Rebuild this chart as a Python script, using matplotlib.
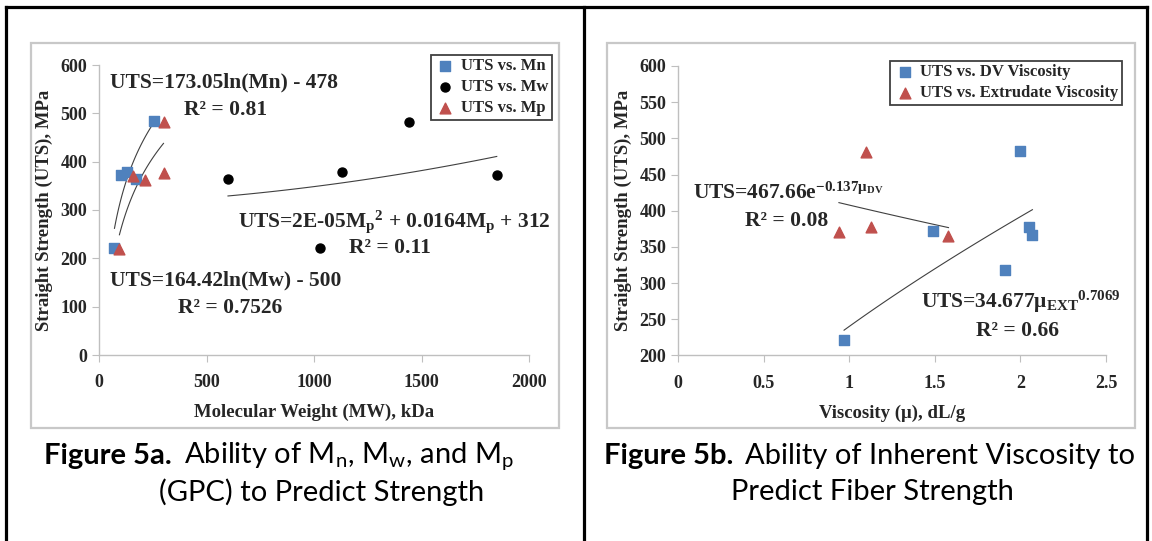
import matplotlib.pyplot as plt
import numpy as np
from matplotlib.patches import Rectangle
from matplotlib.lines import Line2D

plt.rcParams['font.family'] = ['Liberation Serif', 'DejaVu Serif']
plt.rcParams['mathtext.fontset'] = 'custom'
plt.rcParams['mathtext.rm'] = 'Lato'
plt.rcParams['mathtext.it'] = 'Lato:italic'
plt.rcParams['mathtext.bf'] = 'Liberation Serif:bold'

# Figure 5a: molecular weight (kDa) vs. strength (MPa)
mn_kda = [72, 100, 128, 170, 255]
mn_uts = [221, 372, 378, 365, 484]
mw_kda = [600, 1030, 1130, 1440, 1850]
mw_uts = [365, 221, 378, 483, 372]
mp_kda = [95, 160, 215, 300, 300]
mp_uts = [219, 371, 363, 482, 377]

# Figure 5b: viscosity (dL/g) vs. strength (MPa)
dv_visc = [0.97, 1.49, 1.91, 2.0, 2.05, 2.07]
dv_uts = [221, 372, 318, 482, 378, 366]
ext_visc = [0.94, 1.10, 1.13, 1.58]
ext_uts = [371, 481, 377, 365]

# trendline coefficients
ln_mn = (173.05, -478)
ln_mp = (164.42, -500)
quad_mw = (2e-5, 0.0164, 312)
exp_ext = (467.66, -0.137)
pow_dv = (240.0, 0.7069)

xticks_a = [0, 500, 1000, 1500, 2000]
yticks_a = [0, 100, 200, 300, 400, 500, 600]
xticks_b = [0, 0.5, 1, 1.5, 2, 2.5]
xlabels_b = ['0', '0.5', '1', '1.5', '2', '2.5']
yticks_b = [200, 250, 300, 350, 400, 450, 500, 550, 600]

BLUE = '#4f81bd'
RED = '#c0504d'
GRID = '#bfbfbf'
TXT = '#262626'
TREND = '#404040'

W, H = 1152, 541
fig = plt.figure(figsize=(W / 100, H / 100), dpi=100)


def fx(px):
    return px / W


def fy(py):
    return 1 - py / H


# table borders
for x0, y0, x1, y1 in [(6, 7, 1147, 7), (6, 7, 6, 541), (583.5, 7, 583.5, 541), (1147, 7, 1147, 541)]:
    fig.add_artist(Line2D([fx(x0), fx(x1)], [fy(y0), fy(y1)], color='black', lw=2.3))

# chart frames
for x0, x1 in [(31, 559), (607, 1135)]:
    fig.add_artist(Rectangle((fx(x0), fy(428)), fx(x1) - fx(x0), fy(43) - fy(428),
                             fill=False, edgecolor='#c8c8c8', lw=1.6))


def style_axes(ax, xt, xl, yt):
    for s in ['top', 'right']:
        ax.spines[s].set_visible(False)
    for s in ['left', 'bottom']:
        ax.spines[s].set_color(GRID)
        ax.spines[s].set_linewidth(1.0)
    ax.set_xticks(xt, xl, fontweight='bold', fontsize=13, color=TXT)
    ax.set_yticks(yt, [str(v) for v in yt], fontweight='bold', fontsize=13, color=TXT)
    ax.tick_params(direction='out', length=5, color=GRID)
    ax.tick_params(axis='x', pad=9)


def legend(ax, anchor):
    leg = ax.legend(loc='upper right', bbox_to_anchor=anchor, bbox_transform=fig.transFigure,
                    fancybox=False, edgecolor=TREND, framealpha=1, borderpad=0.2,
                    labelspacing=0.3, handletextpad=0.3, handlelength=1.3, borderaxespad=0,
                    prop={'size': 12, 'weight': 'bold'})
    leg.get_frame().set_linewidth(1.3)
    for t in leg.get_texts():
        t.set_color(TXT)


tk = dict(fontsize=15.5, color=TXT, fontweight='bold')
lab = dict(fontsize=13.5, color=TXT, fontweight='bold')

# ---- Figure 5a ----
ax1 = fig.add_axes([fx(99), fy(355), (529 - 99) / W, (355 - 65) / H])
ax1.scatter(mn_kda, mn_uts, marker='s', s=60, color=BLUE, label='UTS vs. Mn', zorder=3)
ax1.scatter(mw_kda, mw_uts, marker='o', s=42, color='black', label='UTS vs. Mw', zorder=3)
ax1.scatter(mp_kda, mp_uts, marker='^', s=60, color=RED, label='UTS vs. Mp', zorder=3)

x = np.linspace(min(mn_kda), max(mn_kda), 100)
ax1.plot(x, ln_mn[0] * np.log(x) + ln_mn[1], color=TREND, lw=0.8)
x = np.linspace(min(mp_kda), max(mp_kda), 100)
ax1.plot(x, ln_mp[0] * np.log(x) + ln_mp[1], color=TREND, lw=0.8)
x = np.linspace(min(mw_kda), max(mw_kda), 100)
ax1.plot(x, quad_mw[0] * x ** 2 + quad_mw[1] * x + quad_mw[2], color=TREND, lw=0.8)

ax1.set_xlim(0, 2000)
ax1.set_ylim(0, 600)
style_axes(ax1, xticks_a, [str(v) for v in xticks_a], yticks_a)
ax1.set_xlabel('Molecular Weight (MW), kDa', labelpad=9, **lab)
ax1.set_ylabel('Straight Strength (UTS), MPa', labelpad=5, **lab)

fig.text(fx(110), fy(82), 'UTS=173.05ln(Mn) - 478', va='center', **tk)
fig.text(fx(226), fy(110), 'R² = 0.81', va='center', ha='center', **tk)
fig.text(fx(551), fy(222), r'UTS=2E-05$\mathbf{M_p{}^{2}}$ + 0.0164$\mathbf{M_p}$ + 312',
         va='center', ha='right', **tk)
fig.text(fx(390), fy(248), 'R² = 0.11', va='center', ha='center', **tk)
fig.text(fx(110), fy(280), 'UTS=164.42ln(Mw) - 500', va='center', **tk)
fig.text(fx(230), fy(308), 'R² = 0.7526', va='center', ha='center', **tk)

legend(ax1, (fx(552), fy(55)))

# ---- Figure 5b ----
ax2 = fig.add_axes([fx(678), fy(355.4), (1106 - 678) / W, (355.4 - 66) / H])
ax2.scatter(dv_visc, dv_uts, marker='s', s=60, color=BLUE, label='UTS vs. DV Viscosity', zorder=3)
ax2.scatter(ext_visc, ext_uts, marker='^', s=60, color=RED, label='UTS vs. Extrudate Viscosity', zorder=3)

x = np.linspace(min(ext_visc), max(ext_visc), 100)
ax2.plot(x, exp_ext[0] * np.exp(exp_ext[1] * x), color=TREND, lw=0.8)
x = np.linspace(min(dv_visc), max(dv_visc), 100)
ax2.plot(x, pow_dv[0] * x ** pow_dv[1], color=TREND, lw=0.8)

ax2.set_xlim(0, 2.5)
ax2.set_ylim(200, 600)
style_axes(ax2, xticks_b, xlabels_b, yticks_b)
ax2.set_xlabel('Viscosity (μ), dL/g', labelpad=9, **lab)
ax2.set_ylabel('Straight Strength (UTS), MPa', labelpad=5, **lab)

fig.text(fx(693), fy(193), r'UTS=467.66e$\mathbf{^{-0.137μ_{DV}}}$', va='center', **tk)
fig.text(fx(787), fy(221), 'R² = 0.08', va='center', ha='center', **tk)
fig.text(fx(921), fy(302), r'UTS=34.677$\mathbf{μ_{EXT}{}^{0.7069}}$', va='center', **tk)
fig.text(fx(1018), fy(331), 'R² = 0.66', va='center', ha='center', **tk)

legend(ax2, (fx(1122), fy(61)))

# ---- captions ----
cap = dict(fontsize=21, color='black', family=['Lato', 'DejaVu Sans'])
renderer = fig.canvas.get_renderer()


def caption(x_left, y, bold, rest):
    t = fig.text(fx(x_left), fy(y), bold, va='center', fontweight='bold', **cap)
    bb = t.get_window_extent(renderer)
    fig.text(bb.x1 / W + fx(12), fy(y), rest, va='center', fontweight='normal', **cap)


caption(44, 456, 'Figure 5a.',
        r'Ability of M$\mathrm{_n}$, M$\mathrm{_w}$, and M$\mathrm{_p}$')
fig.text(fx(322), fy(492), '(GPC) to Predict Strength', ha='center', va='center',
         fontweight='normal', **cap)
caption(604, 456, 'Figure 5b.', 'Ability of Inherent Viscosity to')
fig.text(fx(872), fy(492), 'Predict Fiber Strength', ha='center', va='center',
         fontweight='normal', **cap)

fig.savefig('out.png', dpi=100)
